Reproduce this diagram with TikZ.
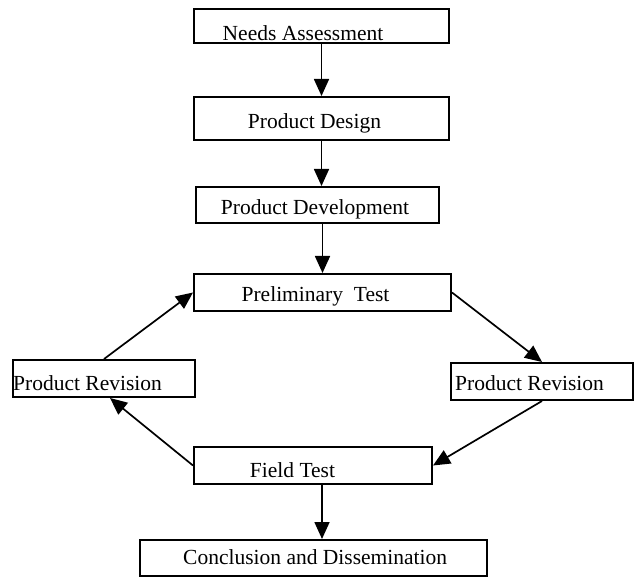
\documentclass[tikz,border=0pt]{standalone}
\usepackage{fontspec}
\setmainfont{Liberation Serif}
\usetikzlibrary{arrows.meta}
\begin{document}
\begin{tikzpicture}[x=1pt,y=-1pt,
  box/.style={draw=black,line width=2pt,fill=white,inner sep=0pt,minimum width=#1},
  lbl/.style={font=\fontsize{21.5}{24}\selectfont,inner sep=0pt,anchor=base},
  arr/.style={line width=1.7pt,-{Triangle[length=17pt,width=15pt]}}]
\useasboundingbox (0,0) rectangle (640,577);
\fill[white] (0,0) rectangle (640,577);
% boxes
\node[box=255pt,minimum height=34pt] (needs) at (321.5,26) {};
\node[box=255pt,minimum height=43pt] (design) at (321.5,118.5) {};
\node[box=243pt,minimum height=36pt] (dev) at (317.5,205) {};
\node[box=257pt,minimum height=37pt] (prelim) at (322.5,292.5) {};
\node[box=182pt,minimum height=37pt] (prl) at (104,378.5) {};
\node[box=182pt,minimum height=37pt] (prr) at (542,381.5) {};
\node[box=238pt,minimum height=37pt] (field) at (313,465.5) {};
\node[box=347pt,minimum height=36pt] (concl) at (313.5,558) {};
% texts
\node[lbl] (tneeds) at (303,41) {Needs Assessment};
\node[lbl] (tdesign) at (314.5,129) {Product Design};
\node[lbl] (tdev) at (315,215) {Product Development};
\node[lbl] (tprelim) at (315.5,302) {Preliminary\ \ Test};
\node[lbl,anchor=base west] (tprl) at (13,390) {Product Revision};
\node[lbl,anchor=base west] (tprr) at (455,390) {Product Revision};
\node[lbl] (tfield) at (292.5,477) {Field Test};
\node[lbl,anchor=base west] (tconcl) at (183,564) {Conclusion and Dissemination};
% connectors
\draw[arr] (needs.south) -- (design.north);
\draw[arr] (design.south) -- (design.south |- dev.north);
\draw[arr] (dev.south -| prelim.north) -- (prelim.north);
\draw[arr] (prelim.east) -- (prr.north);
\draw[arr] (prr.south) -- (field.east);
\draw[arr] (field.west) -- ([xshift=6pt]prl.south);
\draw[arr] (prl.north) -- (prelim.west);
\draw[arr] ([xshift=9pt]field.south) -- ([xshift=9pt]field.south |- concl.north);
\end{tikzpicture}
\end{document}
